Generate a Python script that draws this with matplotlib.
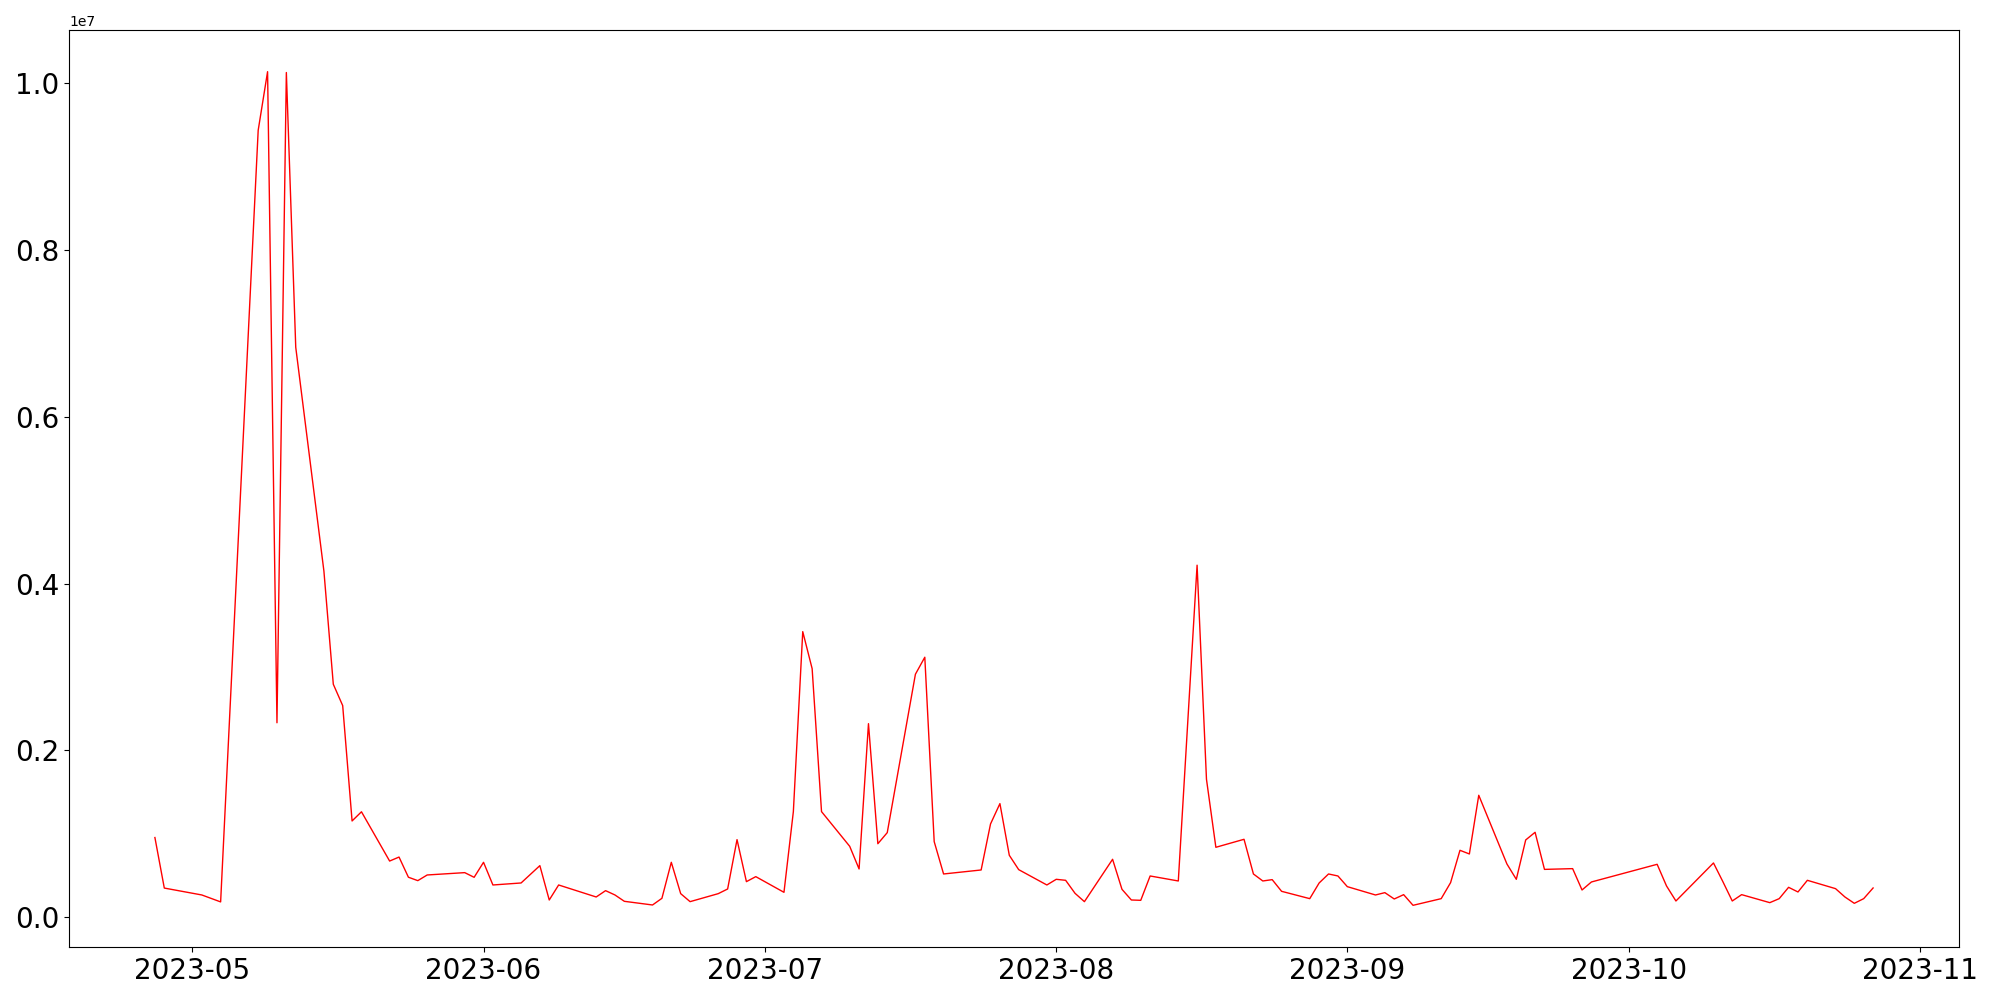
import matplotlib
matplotlib.use("Agg")
import matplotlib.pyplot as plt
import pandas as pd

dates = [
    "2023-04-27", "2023-04-28", "2023-05-02", "2023-05-04", "2023-05-08", "2023-05-09",
    "2023-05-10", "2023-05-11", "2023-05-12", "2023-05-15", "2023-05-16", "2023-05-17",
    "2023-05-18", "2023-05-19", "2023-05-22", "2023-05-23", "2023-05-24", "2023-05-25",
    "2023-05-26", "2023-05-30", "2023-05-31", "2023-06-01", "2023-06-02", "2023-06-05",
    "2023-06-07", "2023-06-08", "2023-06-09", "2023-06-13", "2023-06-14", "2023-06-15",
    "2023-06-16", "2023-06-19", "2023-06-20", "2023-06-21", "2023-06-22", "2023-06-23",
    "2023-06-26", "2023-06-27", "2023-06-28", "2023-06-29", "2023-06-30", "2023-07-03",
    "2023-07-04", "2023-07-05", "2023-07-06", "2023-07-07", "2023-07-10", "2023-07-11",
    "2023-07-12", "2023-07-13", "2023-07-14", "2023-07-17", "2023-07-18", "2023-07-19",
    "2023-07-20", "2023-07-24", "2023-07-25", "2023-07-26", "2023-07-27", "2023-07-28",
    "2023-07-31", "2023-08-01", "2023-08-02", "2023-08-03", "2023-08-04", "2023-08-07",
    "2023-08-08", "2023-08-09", "2023-08-10", "2023-08-11", "2023-08-14", "2023-08-16",
    "2023-08-17", "2023-08-18", "2023-08-21", "2023-08-22", "2023-08-23", "2023-08-24",
    "2023-08-25", "2023-08-28", "2023-08-29", "2023-08-30", "2023-08-31", "2023-09-01",
    "2023-09-04", "2023-09-05", "2023-09-06", "2023-09-07", "2023-09-08", "2023-09-11",
    "2023-09-12", "2023-09-13", "2023-09-14", "2023-09-15", "2023-09-18", "2023-09-19",
    "2023-09-20", "2023-09-21", "2023-09-22", "2023-09-25", "2023-09-26", "2023-09-27",
    "2023-10-04", "2023-10-05", "2023-10-06", "2023-10-10", "2023-10-11", "2023-10-12",
    "2023-10-13", "2023-10-16", "2023-10-17", "2023-10-18", "2023-10-19", "2023-10-20",
    "2023-10-23", "2023-10-24", "2023-10-25", "2023-10-26", "2023-10-27",
]

values = [
    953000, 347000, 264000, 181000, 9437000, 10140000,
    2330000, 10130000, 6834000, 4149000, 2792000, 2536000,
    1152000, 1262000, 671000, 719000, 477000, 436000,
    504000, 532000, 476000, 656000, 384000, 408000,
    616000, 204000, 384000, 240000, 316000, 264000,
    188000, 144000, 224000, 656000, 280000, 184000,
    280000, 336000, 928000, 424000, 484000, 296000,
    1264000, 3423000, 2979000, 1264000, 848000, 576000,
    2319000, 879000, 1012000, 2912000, 3116000, 904000,
    516000, 564000, 1116000, 1360000, 740000, 568000,
    384000, 452000, 440000, 284000, 184000, 692000,
    332000, 204000, 200000, 492000, 432000, 4220000,
    1652000, 836000, 932000, 516000, 432000, 448000,
    308000, 220000, 408000, 516000, 492000, 364000,
    264000, 292000, 216000, 268000, 140000, 220000,
    412000, 800000, 756000, 1460000, 636000, 452000,
    924000, 1016000, 571000, 580000, 324000, 420000,
    632000, 372000, 192000, 648000, 424000, 192000,
    268000, 172000, 220000, 356000, 300000, 440000,
    340000, 240000, 164000, 220000, 348000,
]

x = pd.to_datetime(dates)

fig = plt.figure(figsize=(20, 10), dpi=100)
ax = fig.add_axes([0.0345, 0.053, 0.945, 0.917])
ax.plot(x, values, color="red", linewidth=1.0)
ax.tick_params(labelsize=20)
fig.savefig("out.png", dpi=100)
